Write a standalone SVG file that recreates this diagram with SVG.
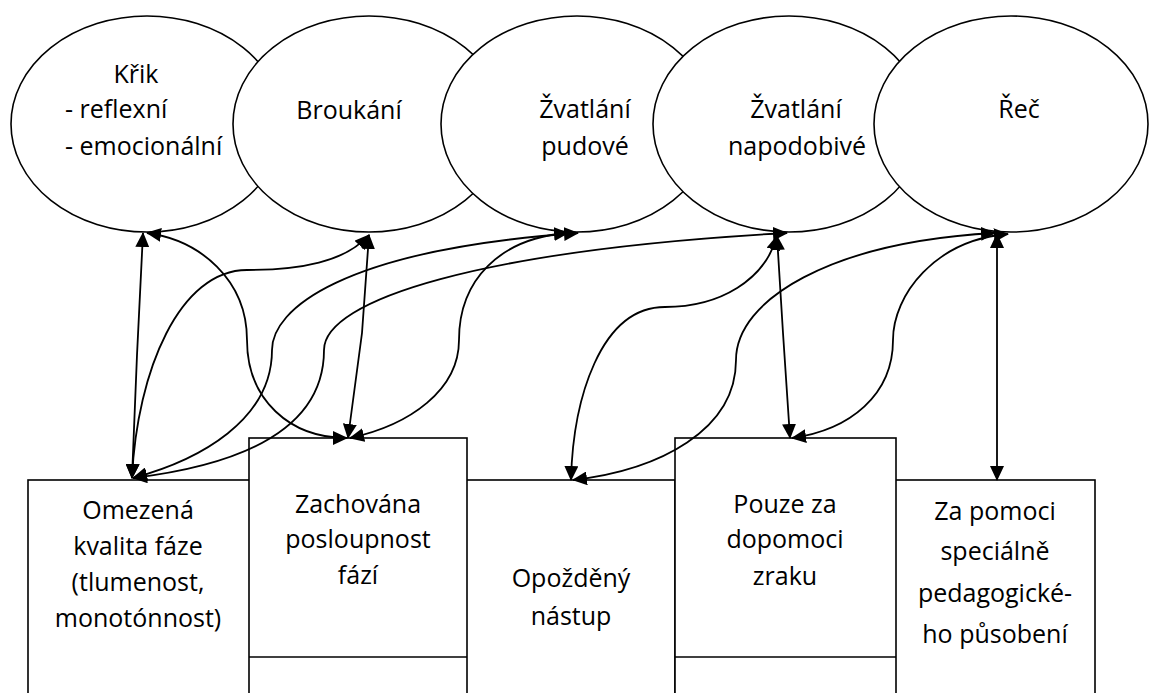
<svg xmlns="http://www.w3.org/2000/svg" width="1152" height="693" viewBox="0 0 1152 693">
<defs>
<style>
.node ellipse, .node rect {fill:#fff; stroke:#000; stroke-width:1.6}
.node line {stroke:#000; stroke-width:1.6}
text {font-family:"Open Sans","Noto Sans","DejaVu Sans",sans-serif; font-size:25px; fill:#000}
.c {text-anchor:middle}
.conn path {fill:none; stroke:#000; stroke-width:1.8; marker-start:url(#ah); marker-end:url(#ah)}
</style>
<marker id="ah" viewBox="0 0 15 14" refX="14" refY="7" markerWidth="15" markerHeight="14" markerUnits="userSpaceOnUse" orient="auto-start-reverse"><path d="M0,0 L15,7 L0,14 z" fill="#000"/></marker>
</defs>
<rect width="1152" height="693" fill="#fff"/>

<g id="e1" class="node"><ellipse cx="147" cy="124" rx="136" ry="108"/>
<text x="136" y="83" class="c">Křik</text>
<text x="65" y="118">- reflexní</text>
<text x="65" y="155">- emocionální</text></g>
<g id="e2" class="node"><ellipse cx="369" cy="124" rx="136" ry="108"/>
<text x="349" y="119" class="c">Broukání</text></g>
<g id="e3" class="node"><ellipse cx="577" cy="124" rx="136" ry="108"/>
<text x="585" y="118" class="c">Žvatlání</text>
<text x="585" y="155" class="c">pudové</text></g>
<g id="e4" class="node"><ellipse cx="789" cy="124" rx="136" ry="108"/>
<text x="796" y="118" class="c">Žvatlání</text>
<text x="797" y="155" class="c">napodobivé</text></g>
<g id="e5" class="node"><ellipse cx="1011" cy="124" rx="137" ry="108"/>
<text x="1019" y="118" class="c">Řeč</text></g>

<g id="b1" class="node"><rect x="28" y="480" width="240" height="260"/>
<text x="138" y="519" class="c">Omezená</text>
<text x="138" y="555" class="c">kvalita fáze</text>
<text x="138" y="591" class="c">(tlumenost,</text>
<text x="138" y="627" class="c">monotónnost)</text></g>
<g id="b3" class="node"><rect x="440" y="480" width="235" height="260"/>
<text x="571" y="587" class="c">Opožděný</text>
<text x="571" y="625" class="c">nástup</text></g>
<g id="b5" class="node"><rect x="870" y="480" width="225" height="260"/>
<text x="995" y="520" class="c">Za pomoci</text>
<text x="995" y="560" class="c">speciálně</text>
<text x="995" y="602" class="c">pedagogické-</text>
<text x="995" y="643" class="c">ho působení</text></g>
<g id="b2" class="node"><rect x="249" y="438" width="218" height="300"/>
<line x1="249" y1="657" x2="467" y2="657"/>
<text x="358" y="513" class="c">Zachována</text>
<text x="358" y="548" class="c">posloupnost</text>
<text x="358" y="584" class="c">fází</text></g>
<g id="b4" class="node"><rect x="675" y="438" width="221" height="300"/>
<line x1="675" y1="657" x2="896" y2="657"/>
<text x="785" y="513" class="c">Pouze za</text>
<text x="785" y="548" class="c">dopomoci</text>
<text x="785" y="585" class="c">zraku</text></g>

<g id="connectors" class="conn">
<path d="M143,233 L137,355 L132,478"/>
<path d="M147,233 C200,240 247,280 247,340 C247,400 290,438 347,438"/>
<path d="M132,478 C137,370 180,270 247,270 C300,270 345,262 369,235"/>
<path d="M133,478 C200,460 272,420 272,350 C272,310 340,250 578,233"/>
<path d="M133,478 C240,465 324,430 324,350 C324,300 480,250 787,233"/>
<path d="M369,235 L362,333 L348,438"/>
<path d="M350,438 C410,425 459,390 459,340 C459,280 500,238 568,233"/>
<path d="M571,480 C573,400 600,307 665,307 C720,307 765,280 777,236"/>
<path d="M777,236 L783,333 L790,438"/>
<path d="M573,480 C660,470 736,430 736,360 C736,300 830,242 995,233"/>
<path d="M792,438 C850,430 893,395 893,340 C893,295 935,240 1008,234"/>
<path d="M997,234 L997,480"/>
</g>
</svg>
